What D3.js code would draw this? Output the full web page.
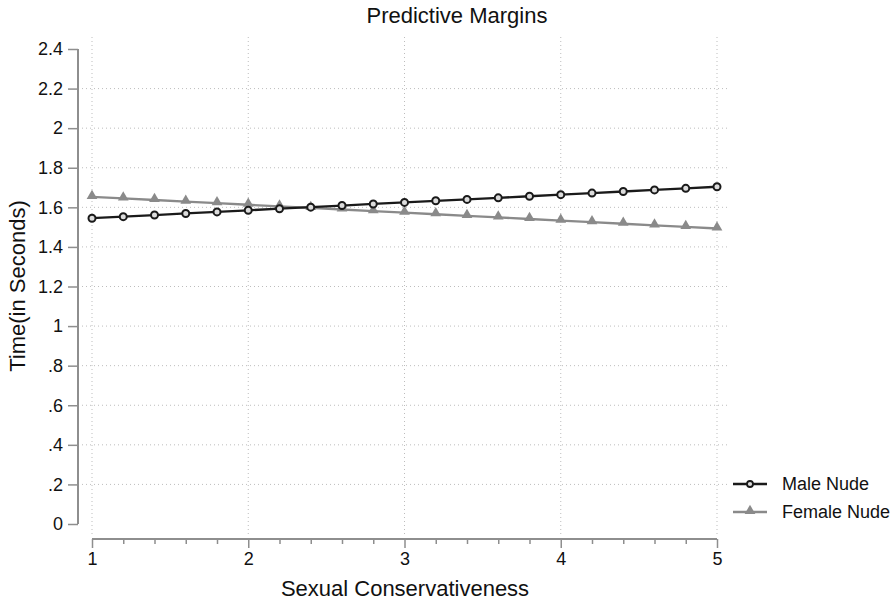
<!DOCTYPE html>
<html>
<head>
<meta charset="utf-8">
<script src="https://cdn.jsdelivr.net/npm/d3@7"></script>
<style>
  html, body { margin: 0; padding: 0; background: #fff; }
  svg { display: block; font-family: "Liberation Sans", Arial, sans-serif; }
  .grid line { stroke: #bdbdbd; stroke-width: 1; stroke-dasharray: 1 3; }
</style>
</head>
<body>
<svg id="chart" width="896" height="602"></svg>
<script>
  const WIDTH = 896;
  const HEIGHT = 602;

  // values
  const xValues = [1, 1.2, 1.4, 1.6, 1.8, 2, 2.2, 2.4, 2.6, 2.8, 3, 3.2, 3.4, 3.6, 3.8, 4, 4.2, 4.4, 4.6, 4.8, 5];
  const maleNude = [1.545, 1.553, 1.561, 1.569, 1.577, 1.585, 1.593, 1.601, 1.609, 1.617, 1.625,
    1.633, 1.640, 1.648, 1.656, 1.664, 1.672, 1.680, 1.688, 1.696, 1.704];
  const femaleNude = [1.653, 1.645, 1.637, 1.629, 1.621, 1.613, 1.605, 1.597, 1.589, 1.581, 1.573,
    1.565, 1.557, 1.549, 1.541, 1.533, 1.525, 1.517, 1.509, 1.501, 1.493];

  const yTicks = [0, 0.2, 0.4, 0.6, 0.8, 1, 1.2, 1.4, 1.6, 1.8, 2, 2.2, 2.4];
  const yTickLabels = ["0", ".2", ".4", ".6", ".8", "1", "1.2", "1.4", "1.6", "1.8", "2", "2.2", "2.4"];
  const xTicks = [1, 2, 3, 4, 5];
  const xMinorTicks = [1.2, 1.4, 1.6, 1.8, 2.2, 2.4, 2.6, 2.8, 3.2, 3.4, 3.6, 3.8, 4.2, 4.4, 4.6, 4.8];
  const seriesNames = ["Male Nude", "Female Nude"];

  const MALE_COLOR = "#1a1a1a";
  const FEMALE_COLOR = "#8a8a8a";
  const AXIS_COLOR = "#8e8e8e";
  const TEXT_COLOR = "#111";

  const plot = { left: 82, right: 728, top: 37, bottom: 535 };

  const x = d3.scaleLinear().domain([1, 5]).range([92, 717]);
  const y = d3.scaleLinear().domain([0, 2.4]).range([524, 49]);

  const svg = d3.select("#chart");

  // grid
  const grid = svg.append("g").attr("class", "grid");
  grid.selectAll("line.h")
    .data(yTicks.filter((t) => t > 0 && t < 2.4))
    .enter()
    .append("line")
    .attr("class", "h")
    .attr("x1", plot.left)
    .attr("x2", plot.right)
    .attr("y1", (d) => y(d))
    .attr("y2", (d) => y(d));
  grid.selectAll("line.v")
    .data(xTicks)
    .enter()
    .append("line")
    .attr("class", "v")
    .attr("x1", (d) => x(d))
    .attr("x2", (d) => x(d))
    .attr("y1", plot.top)
    .attr("y2", plot.bottom);

  // y axis
  const yAxis = svg.append("g")
    .attr("transform", "translate(78,0)")
    .call(
      d3.axisLeft(y)
        .tickValues(yTicks)
        .tickSize(10)
        .tickPadding(5)
        .tickFormat((d, i) => yTickLabels[i])
    );

  // x axis
  const xAxis = svg.append("g")
    .attr("transform", "translate(0,539)")
    .call(
      d3.axisBottom(x)
        .tickValues(xTicks)
        .tickSize(9)
        .tickPadding(4)
        .tickFormat(d3.format("d"))
    );
  const xMinor = svg.append("g")
    .attr("transform", "translate(0,539)")
    .call(d3.axisBottom(x).tickValues(xMinorTicks).tickSize(5).tickFormat(""));
  xMinor.select(".domain").remove();

  [yAxis, xAxis, xMinor].forEach((g) => {
    g.selectAll(".domain").attr("stroke", AXIS_COLOR).attr("stroke-width", 2);
    g.selectAll(".tick line").attr("stroke", AXIS_COLOR).attr("stroke-width", 1.5);
    g.selectAll(".tick text")
      .attr("fill", TEXT_COLOR)
      .style("font-size", "18px")
      .style("font-family", "'Liberation Sans', Arial, sans-serif");
  });
  // keep the axis lines flat, no outer end caps
  yAxis.select(".domain").attr("d", `M0,${y(2.4)}V${y(0)}`);
  xAxis.select(".domain").attr("d", `M${x(1)},0H${x(5)}`);

  // lines
  const lineGen = d3.line()
    .x((d) => x(d[0]))
    .y((d) => y(d[1]));

  const maleData = xValues.map((v, i) => [v, maleNude[i]]);
  const femaleData = xValues.map((v, i) => [v, femaleNude[i]]);

  svg.append("path")
    .datum(femaleData)
    .attr("fill", "none")
    .attr("stroke", FEMALE_COLOR)
    .attr("stroke-width", 2.3)
    .attr("d", lineGen);

  const triangle = d3.symbol().type(d3.symbolTriangle).size(50);
  svg.append("g")
    .selectAll("path")
    .data(femaleData)
    .enter()
    .append("path")
    .attr("d", triangle)
    .attr("transform", (d) => `translate(${x(d[0])},${y(d[1]) - 1})`)
    .attr("fill", FEMALE_COLOR);

  svg.append("path")
    .datum(maleData)
    .attr("fill", "none")
    .attr("stroke", MALE_COLOR)
    .attr("stroke-width", 2.3)
    .attr("d", lineGen);

  svg.append("g")
    .selectAll("circle")
    .data(maleData)
    .enter()
    .append("circle")
    .attr("cx", (d) => x(d[0]))
    .attr("cy", (d) => y(d[1]))
    .attr("r", 3.5)
    .attr("fill", "#dcdcdc")
    .attr("stroke", MALE_COLOR)
    .attr("stroke-width", 2);

  // titles
  svg.append("text")
    .attr("x", 457)
    .attr("y", 23)
    .attr("text-anchor", "middle")
    .attr("fill", TEXT_COLOR)
    .style("font-size", "22px")
    .text("Predictive Margins");

  svg.append("text")
    .attr("x", 405)
    .attr("y", 596)
    .attr("text-anchor", "middle")
    .attr("fill", TEXT_COLOR)
    .style("font-size", "22px")
    .text("Sexual Conservativeness");

  svg.append("text")
    .attr("transform", "translate(25,286) rotate(-90)")
    .attr("text-anchor", "middle")
    .attr("fill", TEXT_COLOR)
    .style("font-size", "22px")
    .text("Time(in Seconds)");

  // legend
  const legend = svg.append("g");
  const legendRows = [
    { name: seriesNames[0], color: MALE_COLOR, marker: "circle", y: 484 },
    { name: seriesNames[1], color: FEMALE_COLOR, marker: "triangle", y: 512 },
  ];
  legendRows.forEach((row) => {
    legend.append("line")
      .attr("x1", 733)
      .attr("x2", 767)
      .attr("y1", row.y)
      .attr("y2", row.y)
      .attr("stroke", row.color)
      .attr("stroke-width", 2.3);
    if (row.marker === "circle") {
      legend.append("circle")
        .attr("cx", 750)
        .attr("cy", row.y)
        .attr("r", 3)
        .attr("fill", "#dcdcdc")
        .attr("stroke", row.color)
        .attr("stroke-width", 1.8);
    } else {
      legend.append("path")
        .attr("d", triangle)
        .attr("transform", `translate(750,${row.y - 1})`)
        .attr("fill", row.color);
    }
    legend.append("text")
      .attr("x", 782)
      .attr("y", row.y + 6)
      .attr("fill", TEXT_COLOR)
      .style("font-size", "18px")
      .text(row.name);
  });
</script>
</body>
</html>
